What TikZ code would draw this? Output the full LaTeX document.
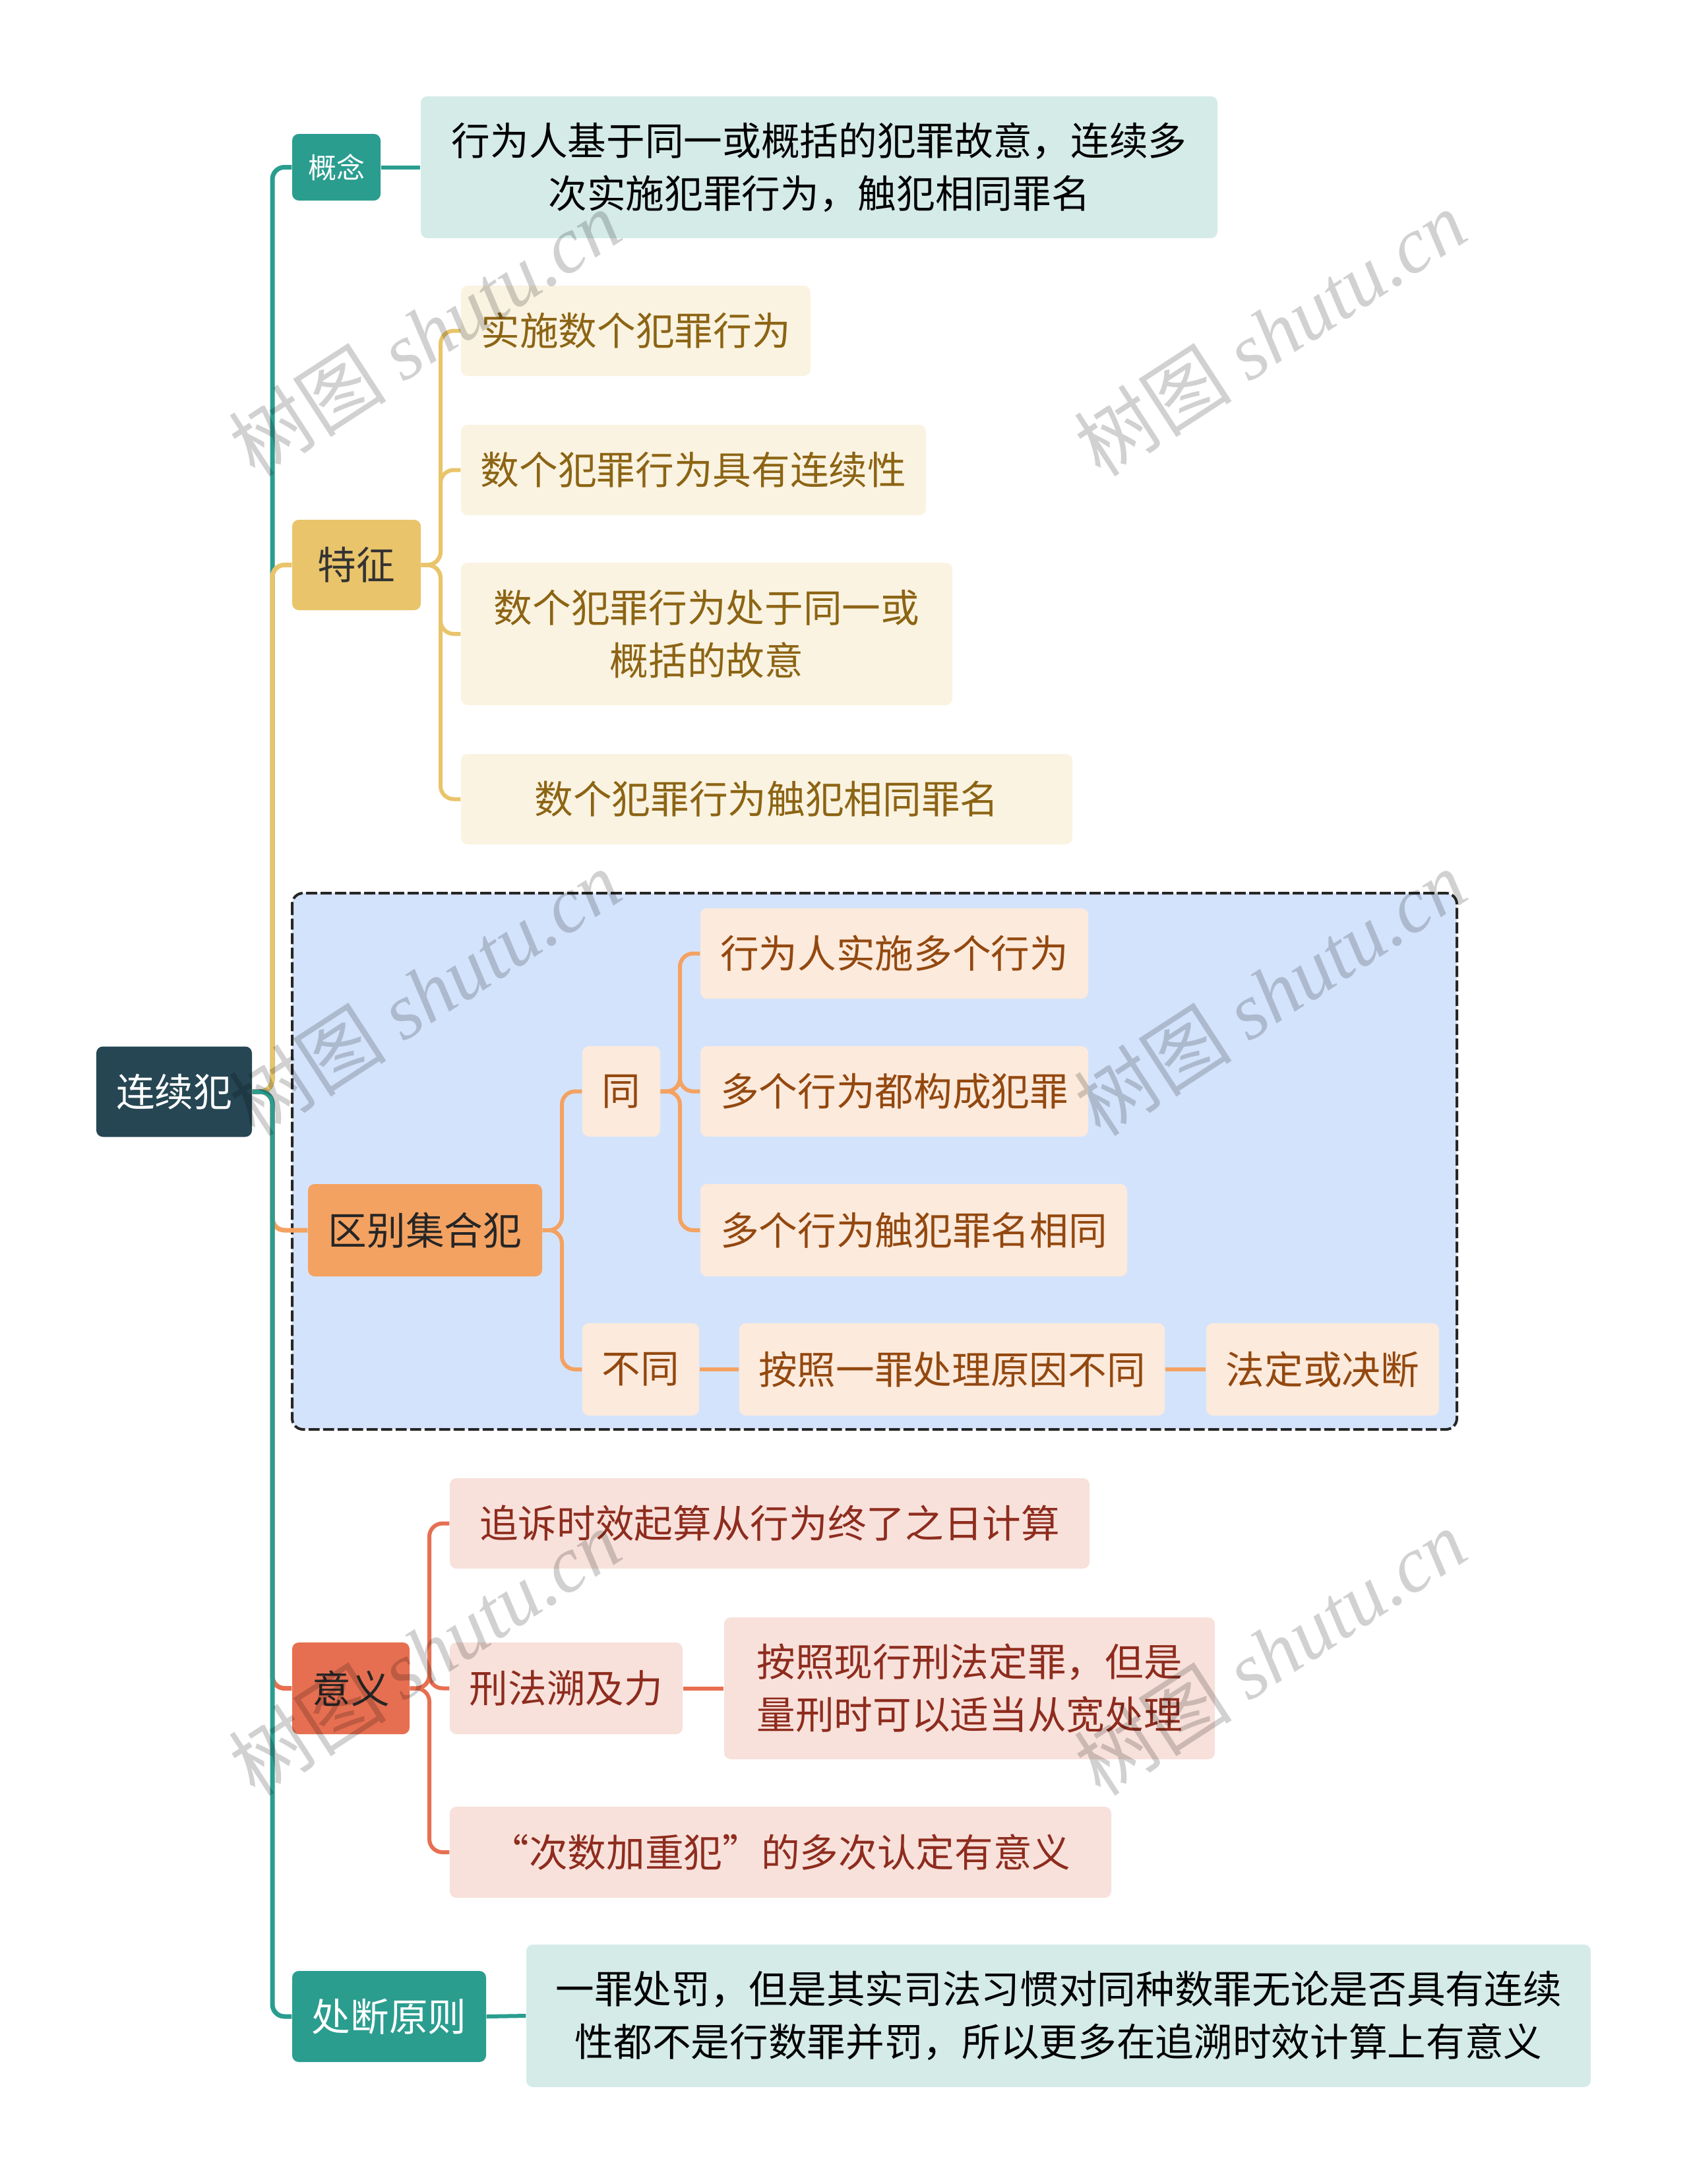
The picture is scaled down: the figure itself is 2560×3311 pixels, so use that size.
\documentclass[tikz,border=0pt]{standalone}
\usepackage{fontspec}
\setmainfont{Noto Sans CJK SC}
\newfontfamily\wmcjk{Noto Sans CJK SC}
\newfontfamily\wmlat{Liberation Serif}
\definecolor{rootc}{HTML}{264653}
\definecolor{tealc}{HTML}{2A9D8F}
\definecolor{teall}{HTML}{D5EBE8}
\definecolor{yelc}{HTML}{E9C46A}
\definecolor{yell}{HTML}{FAF3E1}
\definecolor{yelt}{HTML}{8C6414}
\definecolor{orac}{HTML}{F4A261}
\definecolor{oral}{HTML}{FCEADC}
\definecolor{orat}{HTML}{93480F}
\definecolor{redc}{HTML}{E76F51}
\definecolor{redl}{HTML}{F8E1DB}
\definecolor{redt}{HTML}{8E2C1E}
\definecolor{bluel}{HTML}{D4E3FC}
\tikzset{
  nbox/.style={rectangle, rounded corners=3pt, inner sep=0pt, align=center,
    font=\fontsize{17.6}{24}\selectfont},
  sz/.style 2 args={minimum width=#1*0.3pt, minimum height=#2*0.3pt},
  mainline/.style={line width=2.1pt, rounded corners=5.5pt},
  subline/.style={line width=1.8pt, rounded corners=6pt},
  wm/.style={rotate=33, text=black, text opacity=0.18, inner sep=0pt,
    font=\fontsize{36}{40}\selectfont}
}
\begin{document}
\begin{tikzpicture}[x=0.3pt,y=-0.3pt]
\useasboundingbox (0,0) rectangle (2560,3311);
\fill[white] (0,0) rectangle (2560,3311);

% dashed group box
\draw[fill=bluel, draw=black!85, line width=1.2pt, dash pattern=on 5pt off 1.6pt, rounded corners=5pt]
  (443,1354) rectangle (2209,2167);

% nodes
\node[nbox, sz={236}{137}, fill=rootc, text=white] (root) at (264,1655) {连续犯};

\node[nbox, sz={134}{101}, fill=tealc, text=white, font=\fontsize{12.9}{16}\selectfont] (gn) at (510,253.5) {概念};
\node[nbox, sz={1208}{215}, fill=teall, text=black] (gnd) at (1242,253.5)
  {行为人基于同一或概括的犯罪故意，连续多\\次实施犯罪行为，触犯相同罪名};

\node[nbox, sz={195}{137}, fill=yelc, text=black!80] (tz) at (540.5,856.5) {特征};
\node[nbox, sz={530}{137}, fill=yell, text=yelt] (tz1) at (964,501.5) {实施数个犯罪行为};
\node[nbox, sz={705}{137}, fill=yell, text=yelt] (tz2) at (1051.5,712.5) {数个犯罪行为具有连续性};
\node[nbox, sz={745}{216}, fill=yell, text=yelt] (tz3) at (1071.5,961) {数个犯罪行为处于同一或\\概括的故意};
\node[nbox, sz={927}{137}, fill=yell, text=yelt] (tz4) at (1162.5,1211.5) {数个犯罪行为触犯相同罪名};

\node[nbox, sz={355}{140}, fill=orac, text=black!85] (qb) at (644.5,1865) {区别集合犯};
\node[nbox, sz={118}{137}, fill=oral, text=orat] (tong) at (942,1654.5) {同};
\node[nbox, sz={588}{137}, fill=oral, text=orat] (t1) at (1356,1445.5) {行为人实施多个行为};
\node[nbox, sz={588}{137}, fill=oral, text=orat] (t2) at (1356,1654.5) {多个行为都构成犯罪};
\node[nbox, sz={647}{140}, fill=oral, text=orat] (t3) at (1385.5,1865) {多个行为触犯罪名相同};
\node[nbox, sz={177}{140}, fill=oral, text=orat] (bt) at (971.5,2076) {不同};
\node[nbox, sz={645}{140}, fill=oral, text=orat] (bt1) at (1443.5,2076) {按照一罪处理原因不同};
\node[nbox, sz={353}{140}, fill=oral, text=orat] (bt2) at (2005.5,2076) {法定或决断};

\node[nbox, sz={178}{139}, fill=redc, text=black!85] (yy) at (532,2559.5) {意义};
\node[nbox, sz={970}{137}, fill=redl, text=redt] (yy1) at (1167,2309.5) {追诉时效起算从行为终了之日计算};
\node[nbox, sz={353}{139}, fill=redl, text=redt] (yy2) at (858.5,2559.5) {刑法溯及力};
\node[nbox, sz={744}{215}, fill=redl, text=redt] (yy2a) at (1470,2559.5) {按照现行刑法定罪，但是\\量刑时可以适当从宽处理};
\node[nbox, sz={1003}{138}, fill=redl, text=redt] (yy3) at (1183.5,2808) {“次数加重犯”的多次认定有意义};

\node[nbox, sz={294}{138}, fill=tealc, text=white] (cd) at (590,3057) {处断原则};
\node[nbox, sz={1614}{216}, fill=teall, text=black] (cdd) at (1605,3056)
  {一罪处罚，但是其实司法习惯对同种数罪无论是否具有连续\\性都不是行数罪并罚，所以更多在追溯时效计算上有意义};

% junction coordinates
\coordinate (tr) at (413,1655);
\coordinate (tzj) at (668,856.5);
\coordinate (qbj) at (852,1865);
\coordinate (tgj) at (1031,1654.5);
\coordinate (yyj) at (651,2559.5);

% main branches
\draw[mainline, tealc] (root.east) -- (tr) |- (gn.west);
\draw[mainline, yelc] (root.east) -- (tr) |- (tz.west);
\draw[mainline, orac] (root.east) -- (tr) |- (qb.west);
\draw[mainline, redc] (root.east) -- (tr) |- (yy.west);
\draw[mainline, tealc] (root.east) -- (tr) |- (cd.west);

\draw[subline, tealc] (gn.east) -- (gnd.west);
\draw[subline, tealc] (cd.east) -- (cdd.west);

\foreach \c in {tz1,tz2,tz3,tz4} \draw[subline, yelc] (tz.east) -- (tzj) |- (\c.west);
\foreach \c in {tong,bt} \draw[subline, orac] (qb.east) -- (qbj) |- (\c.west);
\foreach \c in {t1,t2,t3} \draw[subline, orac] (tong.east) -- (tgj) |- (\c.west);
\draw[subline, orac] (bt.east) -- (bt1.west);
\draw[subline, orac] (bt1.east) -- (bt2.west);
\foreach \c in {yy1,yy2,yy3} \draw[subline, redc] (yy.east) -- (yyj) |- (\c.west);
\draw[subline, redc] (yy2.east) -- (yy2a.west);

% watermarks
\foreach \wx/\wy [count=\i] in {644/505,1926/505,644/1505,1926/1505,644/2505,1926/2505}
  \node[wm] (wm\i) at (\wx,\wy) {{\wmcjk 树图} {\wmlat\itshape shutu.cn}};
\end{tikzpicture}
\end{document}
